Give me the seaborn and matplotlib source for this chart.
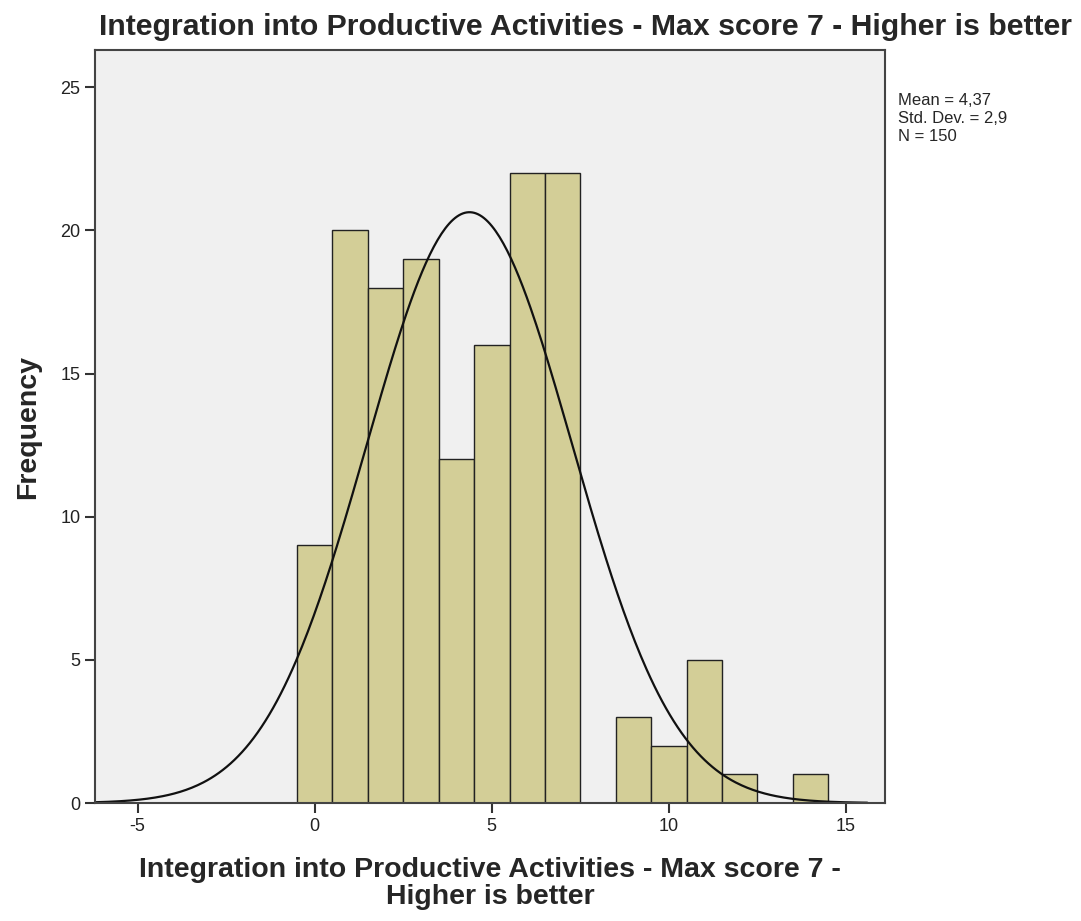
import numpy as np
import pandas as pd
import seaborn as sns
import matplotlib.pyplot as plt

# Histogram data (bin centres and frequencies)
scores = [0, 1, 2, 3, 4, 5, 6, 7, 8, 9, 10, 11, 12, 13, 14]
counts = [9, 20, 18, 19, 12, 16, 22, 22, 0, 3, 2, 5, 1, 0, 1]
mean_val = 4.37
std_val = 2.9
n_total = 150

x_ticks = [-5, 0, 5, 10, 15]
y_ticks = [0, 5, 10, 15, 20, 25]

title = 'Integration into Productive Activities - Max score 7 - Higher is better'
x_label = 'Integration into Productive Activities - Max score 7 -\nHigher is better'


def main():
    sns.set_style('ticks')
    plt.rcParams['font.family'] = ['Liberation Sans', 'DejaVu Sans']

    df = pd.DataFrame({'score': scores, 'count': counts})

    fig = plt.figure(figsize=(10.81, 9.21), dpi=100)
    ax = fig.add_axes([0.0879, 0.1281, 0.7308, 0.8176])
    ax.set_facecolor('#F0F0F0')

    sns.histplot(data=df, x='score', weights='count', discrete=True,
                 color='#D3CE97', edgecolor='#222222', linewidth=1.0,
                 alpha=1.0, ax=ax)

    # fitted normal curve, scaled to counts (bin width 1)
    xs = np.linspace(-6.2, 15.6, 400)
    ys = n_total / (std_val * np.sqrt(2 * np.pi)) * np.exp(-0.5 * ((xs - mean_val) / std_val) ** 2)
    sns.lineplot(x=xs, y=ys, color='#111111', linewidth=1.6, ax=ax)

    ax.set_xlim(-6.2, 16.1)
    ax.set_ylim(0, 26.3)
    ax.set_xticks(x_ticks)
    ax.set_xticklabels([str(t) for t in x_ticks])
    ax.set_yticks(y_ticks)
    ax.tick_params(axis='both', labelsize=13, length=7, width=1.5,
                   color='#333333', labelcolor='#222222')
    for side in ax.spines.values():
        side.set_color('#444444')
        side.set_linewidth(1.5)

    fig.text(0.542, 0.971, title, fontsize=21.8, fontweight='bold',
             ha='center', va='center')
    ax.set_xlabel(x_label, fontsize=20.5, fontweight='bold', labelpad=16,
                  linespacing=1.05)
    ax.set_ylabel('Frequency', fontsize=20.5, fontweight='bold', labelpad=14)

    ax.text(1.017, 0.943, 'Mean = 4,37\nStd. Dev. = 2,9\nN = 150',
            transform=ax.transAxes, fontsize=12, va='top', ha='left',
            linespacing=1.25)

    plt.savefig('out.png', dpi=100)


if __name__ == '__main__':
    main()
